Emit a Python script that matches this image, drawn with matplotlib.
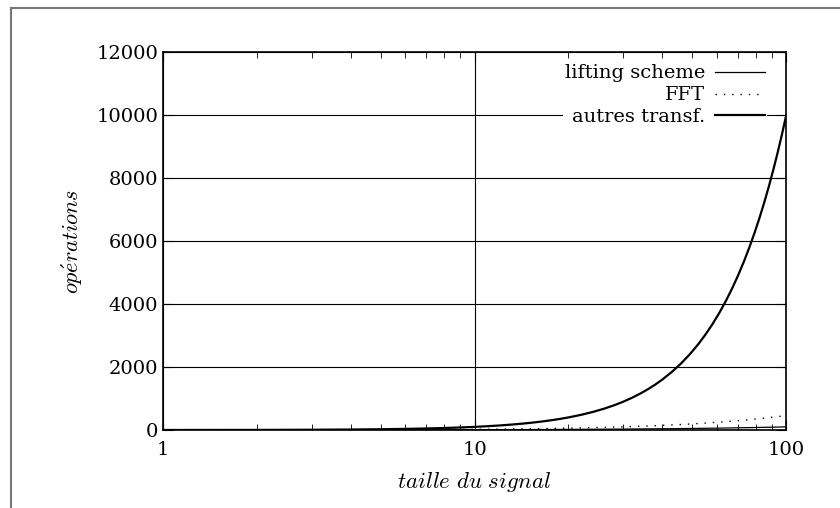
import matplotlib.pyplot as plt
from matplotlib.lines import Line2D
from matplotlib.ticker import FixedLocator, LogLocator, NullFormatter

# signal sizes
taille = [1, 2, 3, 4, 5, 6, 7, 8, 9, 10, 11, 12, 13, 14, 15, 16, 17, 18, 19, 20,
          22, 24, 26, 28, 30, 32, 34, 36, 38, 40, 43, 46, 49, 52, 55, 58, 61,
          64, 67, 70, 73, 76, 79, 82, 85, 88, 91, 94, 97, 100]

# operations
lifting = [1, 2, 3, 4, 5, 6, 7, 8, 9, 10, 11, 12, 13, 14, 15, 16, 17, 18, 19, 20,
           22, 24, 26, 28, 30, 32, 34, 36, 38, 40, 43, 46, 49, 52, 55, 58, 61,
           64, 67, 70, 73, 76, 79, 82, 85, 88, 91, 94, 97, 100]
fft = [0, 1.4, 3.3, 5.5, 8.0, 10.8, 13.6, 16.6, 19.8, 23.0, 26.4, 29.8, 33.3,
       36.9, 40.6, 44.4, 48.2, 52.0, 55.9, 59.9, 68.0, 76.3, 84.7, 93.3, 102,
       111, 120, 129, 138, 148, 162, 176, 191, 205, 220, 236, 251, 266, 282,
       297, 313, 329, 345, 361, 378, 394, 410, 427, 444, 461]
autres = [1, 4, 9, 16, 25, 36, 49, 64, 81, 100, 121, 144, 169, 196, 225, 256,
          289, 324, 361, 400, 484, 576, 676, 784, 900, 1024, 1156, 1296, 1444,
          1600, 1849, 2116, 2401, 2704, 3025, 3364, 3721, 4096, 4489, 4900,
          5329, 5776, 6241, 6724, 7225, 7744, 8281, 8836, 9409, 10000]

yticks = [0, 2000, 4000, 6000, 8000, 10000, 12000]

plt.rcParams['mathtext.fontset'] = 'cm'
plt.rcParams['font.family'] = 'DejaVu Serif'

fig = plt.figure(figsize=(8.4, 5.08), dpi=100)
ax = fig.add_axes([0.194, 0.1535, 0.742, 0.744])

ax.plot(taille, lifting, color='black', lw=0.9, label='lifting scheme')
ax.plot(taille, fft, color='black', lw=1.0, linestyle=(0, (1, 5)), label='FFT')
ax.plot(taille, autres, color='black', lw=1.6, label='autres transf.')

ax.set_xscale('log')
ax.set_xlim(1, 100)
ax.set_ylim(0, 12000)
ax.yaxis.set_major_locator(FixedLocator(yticks))
ax.xaxis.set_minor_locator(LogLocator(base=10, subs=range(2, 10)))
ax.xaxis.set_minor_formatter(NullFormatter())
ax.set_xticks([1, 10, 100])
ax.set_xticklabels(['1', '10', '100'])

ax.grid(True, which='major', color='black', lw=0.8)
ax.tick_params(which='both', direction='in', top=True, right=True,
               labelsize=14, color='black')
ax.tick_params(which='major', length=7)
ax.tick_params(which='minor', length=4)
ax.tick_params(axis='x', pad=8)
for s in ax.spines.values():
    s.set_linewidth(1.2)

ax.set_xlabel(r'$taille\ du\ signal$', fontsize=16.5, labelpad=8)
ax.set_ylabel(r'$op\acute{e}rations$', fontsize=16, labelpad=8)

leg = ax.legend(loc='upper right', bbox_to_anchor=(0.985, 0.998), markerfirst=False,
                fontsize=14, handlelength=2.6, handletextpad=0.5, labelspacing=0.2,
                borderpad=0.1, fancybox=False, framealpha=1, edgecolor='none')
for t in leg.get_texts():
    t.set_ha('right')
leg._legend_box.align = 'right'

# outer frame, partly off the image
fig.add_artist(Line2D([11 / 840, 1], [1 - 8 / 508, 1 - 8 / 508], color='#777777', lw=1.5))
fig.add_artist(Line2D([11 / 840, 11 / 840], [0, 1 - 8 / 508], color='#777777', lw=1.5))

plt.savefig('out.png', dpi=100)
